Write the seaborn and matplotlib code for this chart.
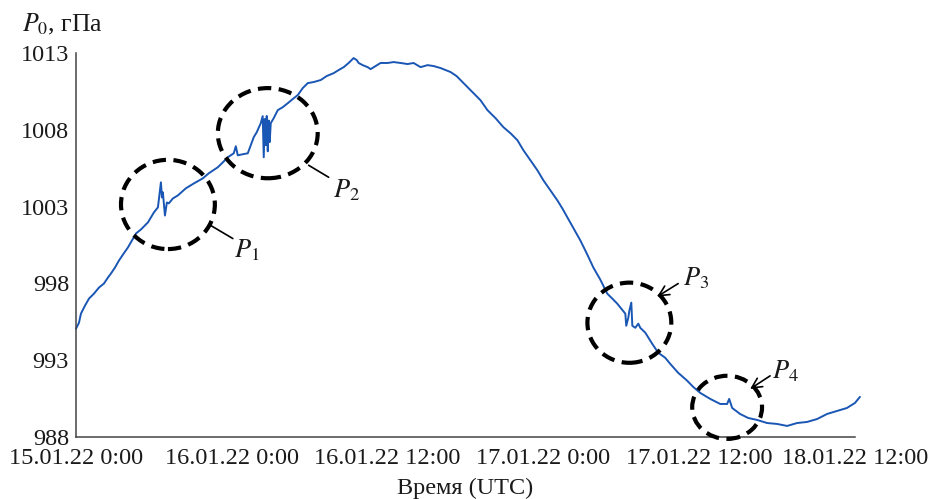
import matplotlib
matplotlib.use("Agg")
import matplotlib.pyplot as plt
from matplotlib.patches import Ellipse
import seaborn as sns

# Surface pressure record, hours from the start of the series
hours = [
    0.00, 0.23, 0.38, 0.69, 1.00, 1.38, 1.77, 2.15, 2.46, 2.69, 3.00, 3.31, 3.62, 4.00,
    4.31, 4.62, 5.00, 5.54, 6.00, 6.31, 6.54, 6.62, 6.69, 6.85, 7.00, 7.15, 7.46, 7.85,
    8.46, 9.08, 9.77, 10.23, 10.92, 11.31, 11.69, 12.15, 12.31, 12.46, 12.85, 13.23,
    13.46, 13.69, 13.92, 14.23, 14.38, 14.46, 14.54, 14.62, 14.69, 14.77, 14.85, 14.92,
    15.00, 15.23, 15.54,
    15.92, 16.31, 16.69, 17.08, 17.46, 17.85, 18.31, 18.85, 19.31, 19.85, 20.23, 20.62,
    21.00, 21.38, 21.62, 21.77, 22.08, 22.46, 22.69, 23.08, 23.46, 24.00, 24.46, 25.00,
    25.54, 26.00, 26.54, 27.08, 27.54, 28.08, 28.46, 28.85, 29.31, 29.85, 30.23, 30.62,
    31.15, 31.69, 32.31, 32.92, 33.46, 34.00, 34.46, 35.00, 35.54, 36.00, 36.54, 37.08,
    37.46, 37.85, 38.31, 38.85, 39.38, 39.85, 40.38, 40.92, 41.31, 41.69, 42.31, 42.38,
    42.54, 42.62, 42.77, 42.85, 43.08, 43.31, 43.46, 43.85, 44.38, 44.85, 45.38, 45.77,
    46.38, 47.08, 47.54, 48.08, 48.85, 49.62, 50.15, 50.31, 50.54, 51.15, 51.77, 52.46,
    53.23, 54.00, 54.77, 55.54, 56.31, 57.08, 57.85, 58.62, 59.38, 60.00, 60.38,
]
pressure = [
    995.05, 995.44, 996.03, 996.55, 997.01, 997.33, 997.73, 997.99, 998.38, 998.64,
    999.03, 999.49, 999.88, 1000.34, 1000.79, 1001.25, 1001.51, 1001.97, 1002.62,
    1002.95, 1004.58, 1003.60, 1003.93, 1002.42, 1003.27, 1003.21, 1003.53, 1003.73,
    1004.19, 1004.51, 1004.84, 1005.17, 1005.56, 1005.88, 1006.21, 1006.47, 1006.93,
    1006.34, 1006.41, 1006.47, 1006.99, 1007.52, 1007.84, 1008.43, 1008.89, 1006.21,
    1008.70, 1007.00, 1008.90, 1006.60, 1008.60, 1007.20, 1008.43, 1008.76, 1009.28,
    1009.47, 1009.73, 1010.00,
    1010.26, 1010.71, 1011.04, 1011.11, 1011.24, 1011.50, 1011.69, 1011.89, 1012.08,
    1012.35, 1012.67, 1012.54, 1012.35, 1012.21, 1012.08, 1011.95, 1012.15, 1012.35,
    1012.35, 1012.41, 1012.35, 1012.28, 1012.35, 1012.08, 1012.21, 1012.15, 1012.02,
    1011.89, 1011.76, 1011.50, 1011.04, 1010.71, 1010.39, 1009.93, 1009.28, 1008.76,
    1008.17, 1007.78, 1007.32, 1006.67, 1006.01, 1005.36, 1004.71, 1004.06, 1003.40,
    1002.88, 1002.29, 1001.58, 1000.79, 999.88, 999.03, 998.25, 997.33, 997.01, 996.68,
    996.03, 995.24, 995.77, 996.22, 996.75, 995.24, 995.11, 995.38, 995.11, 994.79,
    994.07, 993.48, 993.16, 992.76, 992.18, 991.66, 991.26, 990.87, 990.48, 990.15,
    990.15, 990.48, 989.89, 989.50, 989.24, 989.11, 988.91, 988.85, 988.72, 988.91,
    988.98, 989.17, 989.50, 989.70, 989.89, 990.22, 990.61,
]

tick_hours = [0, 12, 24, 36, 48, 60]
tick_labels = ["15.01.22 0:00", "16.01.22 0:00", "16.01.22 12:00",
               "17.01.22 0:00", "17.01.22 12:00", "18.01.22 12:00"]
pressure_ticks = [988, 993, 998, 1003, 1008, 1013]

# Marked disturbances: label, ellipse centre (h, hPa), ellipse size (h, hPa)
events = ["P_1", "P_2", "P_3", "P_4"]
event_centres = [(7.08, 1003.14), (14.77, 1007.78), (42.62, 995.44), (50.15, 989.93)]
event_sizes = [(7.23, 5.81), (7.69, 5.87), (6.46, 5.22), (5.38, 4.11)]
# leader lines: start, end, text anchor, arrow head
leader_start = [(10.38, 1001.77), (17.92, 1005.69), (46.38, 997.99), (53.46, 991.98)]
leader_end = [(12.08, 1000.92), (19.46, 1004.91), (44.77, 997.14), (51.92, 991.13)]
label_pos = [(12.15, 1000.14), (19.77, 1004.06), (46.77, 998.31), (53.62, 992.31)]
arrow_head = [False, False, True, True]

sns.set_theme(style="white")
plt.rcParams["font.family"] = ["Liberation Serif", "DejaVu Serif"]
plt.rcParams["mathtext.fontset"] = "stix"

fig = plt.figure(figsize=(9.32, 4.99), dpi=100)
ax = fig.add_axes([76 / 932, 1 - 437 / 499, 779 / 932, 384 / 499])

sns.lineplot(x=hours, y=pressure, ax=ax, color="#1a56b4", linewidth=1.4,
             sort=False, estimator=None, clip_on=False)

ax.set_xlim(0, 60)
ax.set_ylim(988, 1013)
ax.set_xticks(tick_hours)
ax.set_xticklabels(tick_labels)
ax.set_yticks(pressure_ticks)
ax.set_yticklabels([str(v) for v in pressure_ticks])
ax.tick_params(axis="both", direction="in", length=6, width=1.0, color="#444444",
               labelsize=17.5, labelcolor="#1a1a1a")
ax.tick_params(axis="x", pad=8)
ax.tick_params(axis="y", pad=5)
for side in ("top", "right"):
    ax.spines[side].set_visible(False)
for side in ("left", "bottom"):
    ax.spines[side].set_color("#444444")
    ax.spines[side].set_linewidth(1.1)
ax.set_xlabel("")
ax.set_ylabel("")

for name, c, s, a, b, t, head in zip(events, event_centres, event_sizes,
                                     leader_start, leader_end, label_pos, arrow_head):
    ax.add_patch(Ellipse(c, s[0], s[1], fill=False, edgecolor="black",
                         linewidth=3.0, linestyle=(0, (3.2, 1.8)), clip_on=False,
                         zorder=3))
    style = "->,head_length=0.6,head_width=0.3" if head else "-"
    ax.annotate("", xy=b, xytext=a,
                arrowprops=dict(arrowstyle=style, color="black", lw=1.2,
                                shrinkA=0, shrinkB=0), annotation_clip=False)
    ax.text(t[0], t[1], f"${name}$", fontsize=19, ha="left", va="center",
            color="#1a1a1a")

fig.text(22 / 932, 1 - 24 / 499, "$P_0$, гПа", fontsize=18.5, ha="left",
         va="center", color="#1a1a1a")
fig.text(465 / 932, 1 - 488 / 499, "Время (UTC)", fontsize=17.5, ha="center",
         va="center", color="#1a1a1a")

fig.savefig("out.png", dpi=100)
